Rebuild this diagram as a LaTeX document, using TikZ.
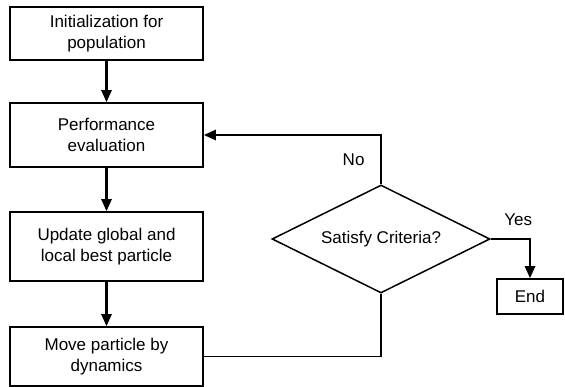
\documentclass[tikz,border=0pt]{standalone}
\usepackage{fontspec}
\setmainfont{Liberation Sans}
\usetikzlibrary{arrows.meta, shapes.geometric, positioning}

\begin{document}
\begin{tikzpicture}[x=1pt, y=-1pt, font=\fontsize{17}{21}\selectfont,
    box/.style = {draw, line width=1.5pt, rectangle, align=center, minimum width=193pt, inner sep=0pt},
    cond/.style = {draw, line width=1.5pt, diamond, aspect=2, minimum width=218pt, minimum height=108pt, inner sep=0pt},
    arrow/.style = {line width=2.4pt, -{Triangle[length=12pt,width=10pt]}},
    line/.style = {line width=1.5pt}]
           \useasboundingbox (0,0) rectangle (565,387);
           \node[box, minimum height=53pt] (init) at (106.5,33.5) {Initialization for\\population};
           \node[box, minimum height=64pt] (perf) at (106.5,135) {Performance\\evaluation};
           \node[box, minimum height=69pt] (upd)  at (106.5,246.5) {Update global and\\local best particle};
           \node[box, minimum height=59pt] (move) at (106.5,356.5) {Move particle by\\dynamics};
           \node[cond] (crit) at (381,239) {Satisfy Criteria?};
           \node[box, minimum width=66pt, minimum height=35pt] (end) at (530,296.5) {End};
     
           \path[arrow]
           (init) edge (perf)
           (perf) edge (upd)
           (upd)  edge (move);

           \draw[line] (move.east) -| (crit.south);
           \draw[arrow] (crit.north) |- node[pos=0.25, left=12pt] {No} (perf.east);
           \draw[arrow] (crit.east) -| node[pos=0.35, above=9pt] {Yes} (end.north);
         \end{tikzpicture}
\end{document}
